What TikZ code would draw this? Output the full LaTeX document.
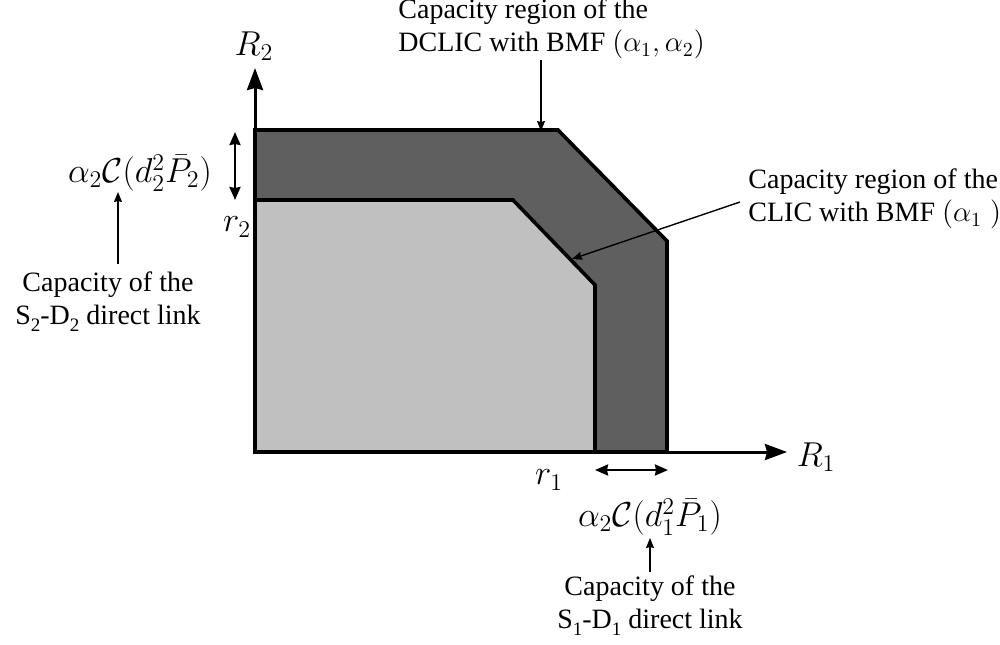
\documentclass[tikz,border=0pt]{standalone}
\usepackage{fontspec}
\setmainfont{Liberation Serif}
\usetikzlibrary{arrows.meta}
\definecolor{darkreg}{RGB}{95,95,95}
\definecolor{lightreg}{RGB}{192,192,192}
\newcommand{\lowsub}[1]{\raisebox{-0.55ex}{\fontsize{9.5}{10}\selectfont #1}}
\begin{document}
\begin{tikzpicture}[x=0.5pt,y=-0.5pt,
  font=\fontsize{14}{16.5}\selectfont,
  region/.style={line width=1.8pt, line join=miter},
  axis/.style={line width=1.5pt,-{Stealth[length=11pt,width=8pt,inset=1pt]}},
  pointer/.style={line width=0.7pt,-{Stealth[length=5pt,width=4pt,inset=0.5pt]}},
  span/.style={line width=1.2pt,{Stealth[length=6.5pt,width=5.5pt,inset=0.5pt]}-{Stealth[length=6.5pt,width=5.5pt,inset=0.5pt]}},
  lbl/.style={inner sep=0pt},
  mathlbl/.style={inner sep=0pt, font=\fontsize{17.5}{20}\selectfont}]
\useasboundingbox (0,0) rectangle (1000,644);

% regions
\draw[region, fill=darkreg] (255,452) -- (255,130) -- (558,130) -- (667,241) -- (667,452) -- cycle;
\draw[region, fill=lightreg] (255,452) -- (255,200) -- (513,200) -- (595,285) -- (595,452) -- cycle;

% axes
\coordinate (O) at (255,452);
\coordinate (ytip) at (255,68);
\coordinate (xtip) at (787,452);
\draw[axis] (O) -- (ytip);
\draw[axis] (O) -- (xtip);
\node[mathlbl] (R2) at (254,46) {$R_2$};
\node[mathlbl] (R1) at (816,457) {$R_1$};

% rate labels
\node[mathlbl] (r2) at (237,227) {$r_2$};
\node[mathlbl] (r1) at (549,480) {$r_1$};

% spans
\coordinate (s2top) at (235,132);
\coordinate (s2bot) at (235,200);
\draw[span] (s2top) -- (s2bot);
\coordinate (s1left) at (595,470);
\coordinate (s1right) at (668,470);
\draw[span] (s1left) -- (s1right);

% capacity expressions
\node[mathlbl] (c2) at (140,173) {$\alpha_2\mathcal{C}(d_2^2\bar{P}_2)$};
\node[mathlbl] (c1) at (650,517) {$\alpha_2\mathcal{C}(d_1^2\bar{P}_1)$};

% text labels
\node[lbl, align=left, anchor=west] (dclic) at (398,29) {Capacity region of the\\DCLIC with BMF $(\alpha_1,\alpha_2)$};
\node[lbl, align=left, anchor=west] (clic) at (748,199) {Capacity region of the\\CLIC with BMF $(\alpha_1\;)$};
\node[lbl, align=center] (s2link) at (108,302) {Capacity of the\\S\lowsub{2}-D\lowsub{2} direct link};
\node[lbl, align=center] (s1link) at (650,606) {Capacity of the\\S\lowsub{1}-D\lowsub{1} direct link};

% pointers
\coordinate (pd1) at (541,60);
\coordinate (pd2) at (541,131);
\draw[pointer] (pd1) -- (pd2);
\coordinate (pc1) at (740,202);
\coordinate (pc2) at (572,259);
\draw[pointer] (pc1) -- (pc2);
\coordinate (pl1) at (118,264);
\coordinate (pl2) at (118,192);
\draw[pointer] (pl1) -- (pl2);
\coordinate (pb1) at (650,572);
\coordinate (pb2) at (650,538);
\draw[pointer] (pb1) -- (pb2);
\end{tikzpicture}
\end{document}
